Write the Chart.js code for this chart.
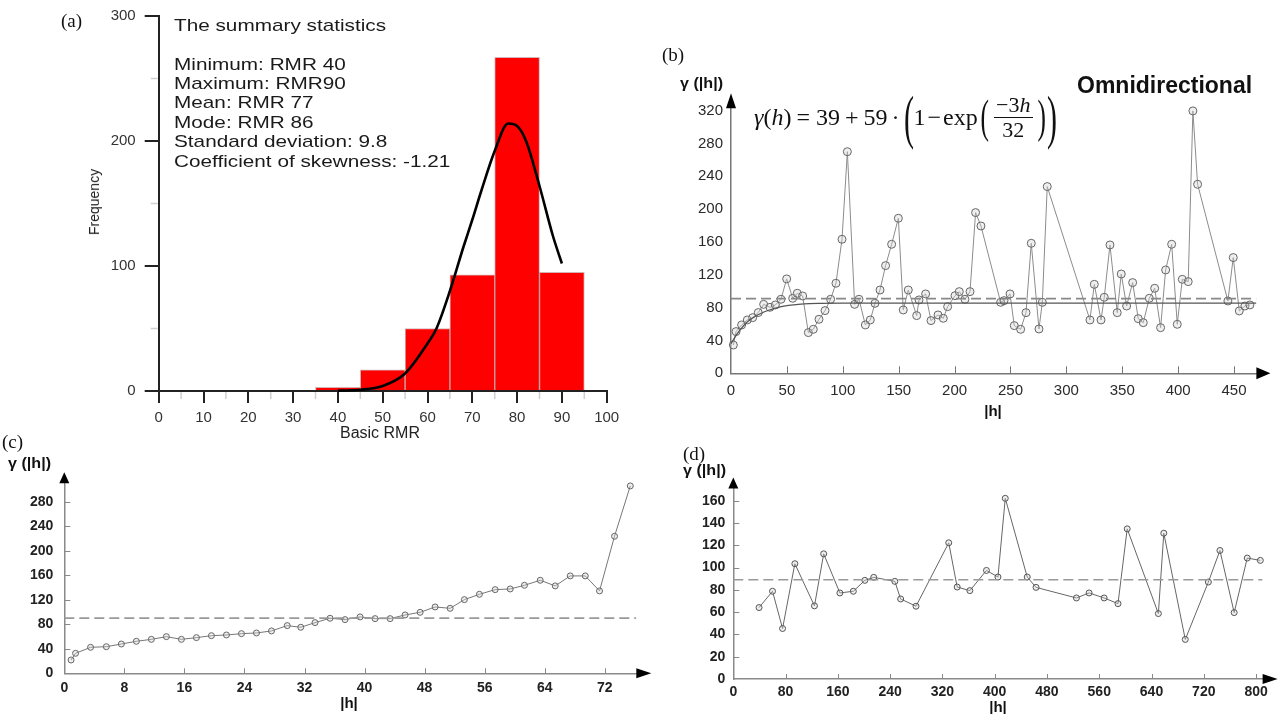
<!DOCTYPE html>
<html><head><meta charset="utf-8">
<script src="https://cdn.jsdelivr.net/npm/chart.js@4.4.0/dist/chart.umd.min.js"></script>
<style>
html,body{margin:0;padding:0;background:#fff;overflow:hidden;}
#wrap{position:relative;width:1283px;height:714px;overflow:hidden;background:#fff;}
canvas{position:absolute;left:0;top:0;}
.t{position:absolute;white-space:nowrap;font-family:'Liberation Sans',Arial,sans-serif;color:#111;}
.serif{font-family:'Liberation Serif','Times New Roman',serif;}
.b{font-weight:bold;}
</style></head><body>
<div id="wrap">
<canvas id="ca" width="1283" height="714"></canvas>
<canvas id="cb" width="1283" height="714"></canvas>
<canvas id="cc" width="1283" height="714"></canvas>
<canvas id="cd" width="1283" height="714"></canvas>

<!-- panel (a) texts -->
<div class="t serif" style="left:61px;top:9px;font-size:19px;line-height:24px;">(a)</div>
<div class="t" style="left:174px;top:16px;font-size:17px;line-height:20px;transform:scaleX(1.22);transform-origin:0 0;color:#1a1a1a;">The summary statistics</div>
<div class="t" style="left:174px;top:54.5px;font-size:17px;line-height:19.4px;transform:scaleX(1.22);transform-origin:0 0;color:#1a1a1a;">Minimum: RMR 40<br>Maximum: RMR90<br>Mean: RMR 77<br>Mode: RMR 86<br>Standard deviation: 9.8<br>Coefficient of skewness: -1.21</div>
<div class="t" style="left:94px;top:202px;font-size:14px;line-height:16px;transform:translate(-50%,-50%) rotate(-90deg);color:#222;">Frequency</div>
<div class="t" style="left:380px;top:433px;font-size:16px;line-height:18px;transform:translate(-50%,-50%);color:#222;">Basic RMR</div>

<!-- panel (b) texts -->
<div class="t serif" style="left:662px;top:43px;font-size:19px;line-height:24px;">(b)</div>
<div class="t b" style="left:680px;top:75px;font-size:14px;line-height:16px;transform:scaleX(1.15);transform-origin:0 0;">γ (|h|)</div>
<div class="t b" style="left:1077px;top:71px;font-size:23px;line-height:28px;">Omnidirectional</div>
<div class="t serif" id="eq" style="left:754px;top:87px;height:60px;display:flex;align-items:center;font-size:24px;">
  <i>γ</i><span>(</span><i>h</i><span>)</span><span style="margin:0 6px 0 5px;">=</span><span>39</span><span style="margin:0 5px;">+</span><span>59</span><span style="margin:0 4px;">·</span>
  <span style="display:inline-block;font-size:60px;line-height:60px;transform:scaleX(0.5);margin:0 -5px;">(</span>
  <span>1</span><span style="margin:0 2px;">−</span><span>exp</span>
  <span style="display:inline-block;font-size:46px;line-height:50px;transform:scaleX(0.55);margin:0 2px 0 -1px;">(</span>
  <span style="display:inline-flex;flex-direction:column;align-items:center;font-size:22px;">
    <span style="border-bottom:1.5px solid #111;padding:0 2px;line-height:24px;">−3<i>h</i></span>
    <span style="line-height:24px;">32</span>
  </span>
  <span style="display:inline-block;font-size:46px;line-height:50px;transform:scaleX(0.55);margin:0 -2px 0 1px;">)</span>
  <span style="display:inline-block;font-size:60px;line-height:60px;transform:scaleX(0.5);margin:0 -5px;">)</span>
</div>
<div class="t b" style="left:993px;top:411px;font-size:15px;line-height:18px;transform:translate(-50%,-50%);">|h|</div>

<!-- panel (c) texts -->
<div class="t serif" style="left:2px;top:430px;font-size:19px;line-height:24px;">(c)</div>
<div class="t b" style="left:8px;top:455px;font-size:14px;line-height:16px;transform:scaleX(1.15);transform-origin:0 0;">γ (|h|)</div>
<div class="t b" style="left:349px;top:703px;font-size:15px;line-height:18px;transform:translate(-50%,-50%);">|h|</div>

<!-- panel (d) texts -->
<div class="t serif" style="left:683px;top:442px;font-size:19px;line-height:24px;">(d)</div>
<div class="t b" style="left:683px;top:462px;font-size:14px;line-height:16px;transform:scaleX(1.15);transform-origin:0 0;">γ (|h|)</div>
<div class="t b" style="left:998px;top:707px;font-size:15px;line-height:18px;transform:translate(-50%,-50%);">|h|</div>
</div>

<script>
// ---------- DATA ----------
// (a) histogram of basic RMR (bin centres, bins 10 wide)
const histBinCenters = [40, 50, 60, 70, 80, 90];
const histFreq = [3, 17, 50, 93, 267, 95];
// fitted normal curve
const normalX = [40, 45, 50, 55, 60, 62, 65, 68, 70, 72, 75, 78, 80, 82, 85, 88, 90];
const normalY = [0.3, 1, 4, 14, 38, 50, 80, 115, 137, 160, 192, 214, 212, 200, 164, 124, 102];

// (b) omnidirectional experimental variogram
const omniLag = [2.1,4.5,9.5,14.6,19.4,24.4,29.2,34.9,39.7,44.7,
  49.8,55.2,59.3,64.1,69.2,73.6,78.7,84.1,89.1,93.9,
  99.3,104.1,110.6,114.5,120.2,124.6,128.8,133.3,138.3,143.7,
  149.7,154.1,158.6,166.1,168.2,174.1,178.9,185.2,189.9,193.8,
  200.4,204.2,209.3,213.8,218.8,223.6,241.2,244.2,249.6,253.4,
  259.1,263.9,268.6,275.5,278.5,282.9,321.1,325,331,333.9,
  339,345.5,349.1,353.9,359.3,364.3,368.8,374.2,379,384.3,
  388.8,394.2,399.2,403.7,409,413.2,417.4,444.5,449.3,454.7,
  459.7,464.2];
const omniGamma = [34.5,50.8,58.9,65,67.8,74,84,80.4,83.3,90.2,
  115,91.4,97.5,94.2,49.6,53.6,65.8,76.4,90.2,109.7,
  163.3,270,84,90.2,58.9,65,85.3,101.5,131.2,157.2,
  188.9,77.2,101.5,70.3,89.4,96.7,64.2,71.1,67,81.2,
  94.6,99.5,90.2,99.5,195.8,179.5,86.5,88.5,96.7,58.1,
  53.6,73.9,158.4,54,86.5,227.5,65,108.4,65,92.6,
  156.4,73.9,121,82,110.5,66.6,61.7,91.4,103.6,55.6,
  125.9,157.2,59.7,114.5,111.7,319.7,230.3,88.1,141,76,
  82,83.3];
// fitted model curve
const modelLag = [0, 5, 10, 15, 20, 30, 40, 50, 60, 70, 80, 100, 150, 470];
const modelGamma = [36, 47, 56, 63, 68, 75, 79.5, 82.5, 84, 85, 85.3, 85.5, 85.5, 85.5];
const sillB = 91;

// (c) directional variogram
const cLag = [0.9,1.5,3.5,5.6,7.6,9.6,11.6,13.6,15.6,17.6,19.6,21.6,23.6,25.6,27.6,29.7,31.5,33.4,35.4,37.4,
  39.4,41.4,43.4,45.4,47.4,49.4,51.4,53.3,55.3,57.4,59.4,61.3,63.4,65.4,67.4,69.4,71.3,73.3,75.4];
const cGamma = [21.7,32.6,42.4,43.4,47.8,52.2,55.4,59.8,55.4,58.2,61.4,62.5,64.7,65.8,69.1,77.8,75.1,82.7,89.8,87.6,
  92,89.2,89.2,95.2,99.5,108.2,106,120.2,128.9,136.5,137.6,143.6,151.8,142.6,158.9,158.9,134.4,223.6,305.7];
const sillC = 90;

// (d) directional variogram
const dLag = [39.4,60,75.4,94.2,124.2,138.3,163.1,183.7,201.3,214.9,247.2,256.1,279.6,329.7,342.6,362,387.4,405,416.2,
  449.8,463.3,525.1,544.5,567.5,588.7,602.8,650.5,658.8,691.7,727,744.7,766.5,786.5,806.5];
const dGamma = [64.1,78.7,45.3,103.4,65.6,112.3,77.2,78.7,88.5,91.2,87.6,71.8,65.3,122.2,82.5,79.3,97.4,91.5,162.1,
  91.5,82.2,72.7,77.2,72.7,67.6,134.7,58.7,130.8,35.5,87,115.3,59.6,108.5,106.4];
const sillD = 89;

// ---------- HELPERS ----------
Chart.defaults.font.family = "'Liberation Sans', Arial, sans-serif";
const pts = (xs, ys) => xs.map((x, i) => ({x, y: ys[i]}));
const fix = (w, h) => s => {
  if (w != null) s.width = w;
  if (h != null) s.height = h;
  s.paddingLeft = s.paddingRight = s.paddingTop = s.paddingBottom = 0;
};
const deco = {
  id: 'axisDeco',
  afterDraw(chart, args, o) {
    if (!o || !o.on) return;
    const {ctx, chartArea: a, scales: {x, y}} = chart;
    ctx.save();
    ctx.strokeStyle = o.tickColor; ctx.lineWidth = o.tickWidth || 1;
    if (o.xTick) x.ticks.forEach(t => {
      if (t.value === 0) return;
      const px = Math.round(x.getPixelForValue(t.value)) + 0.5;
      ctx.beginPath(); ctx.moveTo(px, a.bottom); ctx.lineTo(px, a.bottom - o.xTick); ctx.stroke();
    });
    if (o.yTick) y.ticks.forEach(t => {
      if (t.value === 0) return;
      const py = Math.round(y.getPixelForValue(t.value)) + 0.5;
      ctx.beginPath(); ctx.moveTo(a.left, py); ctx.lineTo(a.left + o.yTick, py); ctx.stroke();
    });
    // minor outward ticks halfway between major ticks
    if (o.minor) {
      ctx.strokeStyle = o.minor.color; ctx.lineWidth = o.minor.width;
      for (let i = 0; i < x.ticks.length - 1; i++) {
        const v = (x.ticks[i].value + x.ticks[i + 1].value) / 2;
        const px = x.getPixelForValue(v);
        ctx.beginPath(); ctx.moveTo(px, a.bottom + 1); ctx.lineTo(px, a.bottom + o.minor.len); ctx.stroke();
      }
      for (let i = 0; i < y.ticks.length - 1; i++) {
        const v = (y.ticks[i].value + y.ticks[i + 1].value) / 2;
        const py = y.getPixelForValue(v);
        ctx.beginPath(); ctx.moveTo(a.left - 1, py); ctx.lineTo(a.left - o.minor.len, py); ctx.stroke();
      }
    }
    ctx.fillStyle = '#000';
    if (o.ax) { ctx.beginPath(); ctx.moveTo(a.right + o.ax[0], a.bottom); ctx.lineTo(a.right, a.bottom - o.ax[1]); ctx.lineTo(a.right, a.bottom + o.ax[1]); ctx.closePath(); ctx.fill(); }
    if (o.ay) { ctx.beginPath(); ctx.moveTo(a.left, a.top - o.ay[0]); ctx.lineTo(a.left - o.ay[1], a.top); ctx.lineTo(a.left + o.ay[1], a.top); ctx.closePath(); ctx.fill(); }
    ctx.restore();
  }
};
const base = (pad) => ({
  responsive: false, animation: false, devicePixelRatio: 1,
  layout: {padding: pad},
  plugins: {legend: {display: false}, tooltip: {enabled: false}, title: {display: false}},
});
const plainGrid = {display: true, drawOnChartArea: false, drawTicks: false};

// ---------- (a) histogram ----------
const optA = base({left: 98.7, top: 16, right: 676.3, bottom: 283});
optA.plugins.axisDeco = {on: true, minor: {color: '#cfcfcf', width: 1.5, len: 8}};
optA.scales = {
  x: {type: 'linear', min: 0, max: 100, offset: false, afterFit: fix(null, 40),
    grid: {display: true, drawOnChartArea: false, drawTicks: true, tickLength: 12, offset: false, color: '#222', lineWidth: 2},
    border: {display: true, color: '#222', width: 2},
    ticks: {stepSize: 10, autoSkip: false, maxRotation: 0, padding: 6, color: '#333', font: {size: 15}}},
  y: {min: 0, max: 300, afterFit: fix(60, null),
    grid: {display: true, drawOnChartArea: false, drawTicks: true, tickLength: 14, color: '#222', lineWidth: 2},
    border: {display: true, color: '#222', width: 2},
    ticks: {stepSize: 100, autoSkip: false, padding: 9, color: '#333', font: {size: 15}}}
};
new Chart(document.getElementById('ca'), {
  type: 'bar',
  data: {datasets: [
    {type: 'line', data: pts(normalX, normalY), borderColor: '#000', borderWidth: 2.6, pointRadius: 0,
     cubicInterpolationMode: 'monotone', order: 0, clip: false},
    {type: 'bar', data: pts(histBinCenters, histFreq), backgroundColor: '#ff0000',
     borderColor: 'rgba(110,0,0,0.3)', borderWidth: 1, barPercentage: 1, categoryPercentage: 1, order: 1}
  ]},
  options: optA,
  plugins: [deco]
});

// ---------- (b) omnidirectional ----------
const optB = base({left: 671, top: 108.2, right: 26.6, bottom: 300.7});
optB.plugins.axisDeco = {on: true, tickColor: '#777', xTick: 7, ax: [14, 6], ay: [15, 5]};
optB.scales = {
  x: {type: 'linear', min: 0, max: 470, afterFit: fix(null, 40), grid: plainGrid,
    border: {display: true, color: '#777', width: 1.5},
    ticks: {stepSize: 50, includeBounds: false, autoSkip: false, maxRotation: 0, padding: 9, color: '#2a2a2a', font: {size: 15}}},
  y: {min: 0, max: 323, afterFit: fix(60, null), grid: plainGrid,
    border: {display: true, color: '#777', width: 1.5},
    ticks: {stepSize: 40, includeBounds: false, autoSkip: false, padding: 8, color: '#2a2a2a', font: {size: 15}}}
};
new Chart(document.getElementById('cb'), {
  type: 'line',
  data: {datasets: [
    {data: [{x: 0, y: sillB}, {x: 470, y: sillB}], borderColor: '#888', borderWidth: 1.6, borderDash: [10, 5], pointRadius: 0},
    {data: pts(modelLag, modelGamma), borderColor: '#555', borderWidth: 1.3, pointRadius: 0, cubicInterpolationMode: 'monotone'},
    {data: pts(omniLag, omniGamma), borderColor: '#8c8c8c', borderWidth: 1, pointRadius: 4, pointBorderColor: '#666',
     pointBackgroundColor: 'rgba(210,210,210,0.35)', pointBorderWidth: 1, clip: false}
  ]},
  options: optB,
  plugins: [deco]
});

// ---------- (c) ----------
const optC = base({left: 14.3, top: 483.3, right: 646.7, bottom: 10.7});
optC.plugins.axisDeco = {on: true, tickColor: '#888', xTick: 5, yTick: 6, ax: [15, 5], ay: [11, 5]};
optC.scales = {
  x: {type: 'linear', min: 0, max: 76.2, afterFit: fix(null, 30), grid: plainGrid,
    border: {display: true, color: '#8a8a8a', width: 1.5},
    ticks: {stepSize: 8, includeBounds: false, autoSkip: false, maxRotation: 0, padding: 6, color: '#222', font: {size: 14, weight: 'bold'}}},
  y: {min: 0, max: 310, afterFit: fix(50, null), grid: plainGrid,
    border: {display: true, color: '#8a8a8a', width: 1.5},
    ticks: {stepSize: 40, includeBounds: false, autoSkip: false, padding: 11, color: '#222', font: {size: 14, weight: 'bold'}}}
};
new Chart(document.getElementById('cc'), {
  type: 'line',
  data: {datasets: [
    {data: [{x: 0, y: sillC}, {x: 76.2, y: sillC}], borderColor: '#999', borderWidth: 1.6, borderDash: [10, 5], pointRadius: 0},
    {data: pts(cLag, cGamma), borderColor: '#777', borderWidth: 1, pointRadius: 3, pointBorderColor: '#666',
     pointBackgroundColor: 'rgba(210,210,210,0.35)', pointBorderWidth: 1, clip: false}
  ]},
  options: optC,
  plugins: [deco]
});

// ---------- (d) ----------
const optD = base({left: 683.3, top: 488.4, right: 20.4, bottom: 5});
optD.plugins.axisDeco = {on: true, tickColor: '#888', xTick: 5, yTick: 6, ax: [15, 5], ay: [11, 5]};
optD.scales = {
  x: {type: 'linear', min: 0, max: 810, afterFit: fix(null, 30), grid: plainGrid,
    border: {display: true, color: '#8a8a8a', width: 1.5},
    ticks: {stepSize: 80, includeBounds: false, autoSkip: false, maxRotation: 0, padding: 5, color: '#222', font: {size: 14, weight: 'bold'}}},
  y: {min: 0, max: 171, afterFit: fix(50, null), grid: plainGrid,
    border: {display: true, color: '#8a8a8a', width: 1.5},
    ticks: {stepSize: 20, includeBounds: false, autoSkip: false, padding: 8, color: '#222', font: {size: 14, weight: 'bold'}}}
};
new Chart(document.getElementById('cd'), {
  type: 'line',
  data: {datasets: [
    {data: [{x: 0, y: sillD}, {x: 810, y: sillD}], borderColor: '#999', borderWidth: 1.6, borderDash: [10, 5], pointRadius: 0},
    {data: pts(dLag, dGamma), borderColor: '#666', borderWidth: 1, pointRadius: 3, pointBorderColor: '#555',
     pointBackgroundColor: 'rgba(210,210,210,0.35)', pointBorderWidth: 1, clip: false}
  ]},
  options: optD,
  plugins: [deco]
});
</script>
</body></html>
